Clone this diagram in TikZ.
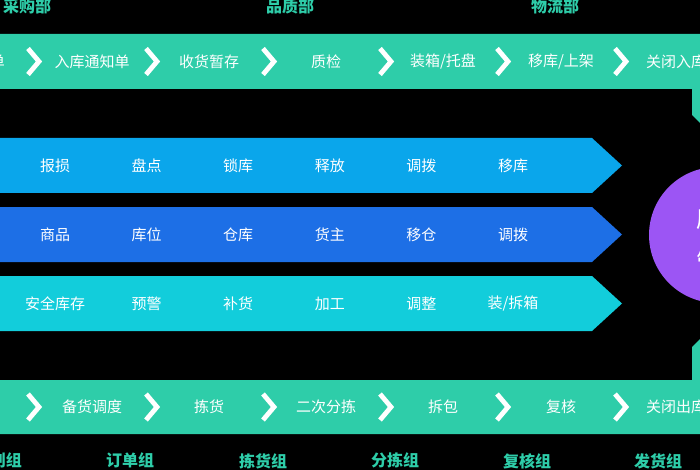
\documentclass[tikz,border=0pt]{standalone}
\usepackage{fontspec}
\setmainfont{Noto Sans CJK SC}
\usepackage{xcolor}
\usepackage{tikz}
\usetikzlibrary{calc}
\definecolor{bandgreen}{HTML}{2ECDA9}
\definecolor{rowsky}{HTML}{0AA6EB}
\definecolor{rowblue}{HTML}{1D6FE6}
\definecolor{rowcyan}{HTML}{12CDDB}
\definecolor{hubpurple}{HTML}{9C55F4}

\begin{document}
\begin{tikzpicture}[x=1pt,y=-1pt,
							lbl/.style={text=white,inner sep=0pt,font=\fontsize{15}{18}\selectfont},
							hdr/.style={text=bandgreen,inner sep=0pt,font=\bfseries\fontsize{16}{18}\selectfont},
							%chevrons between the steps
							chev/.style={draw=white,line width=4.8pt,line join=miter}]
			\useasboundingbox (0,0) rectangle (700,470);
			\fill[black] (0,0) rectangle (700,470);
			% inbound band, bending down to the hub
			\fill[bandgreen] (-20,34) -- (740,34) -- (740,160) -- (737,160) -- (692,115)
				-- (692,89) -- (-20,89) -- cycle;
			% outbound band, bending up to the hub
			\fill[bandgreen] (-20,434) -- (740,434) -- (740,302) -- (737,302) -- (692,347)
				-- (692,380) -- (-20,380) -- cycle;
			\node[circle,fill=hubpurple,minimum size=136pt,inner sep=0pt] (hub) at (717,235) {};
			\node[lbl,font=\fontsize{24}{44}\selectfont,align=center] (hubtext) at (720,240) {库存\\管理};
			% inventory rows
			\foreach \y/\c in {165.5/rowsky,234.5/rowblue,303.5/rowcyan}
				\fill[\c] (-20,\y-27.5) -- (592,\y-27.5) -- (622,\y) -- (592,\y+27.5) -- (-20,\y+27.5) -- cycle;
			\foreach \t [count=\i from 0] in {报损,盘点,锁库,释放,调拨,移库}
				\node[lbl] (sky\i) at (55+91.6*\i,165.5) {\t};
			\foreach \t [count=\i from 0] in {商品,库位,仓库,货主,移仓,调拨}
				\node[lbl] (blue\i) at (55+91.6*\i,234.5) {\t};
			\foreach \t [count=\i from 0] in {安全库存,预警,补货,加工,调整,{装/拆箱}}
				\node[lbl] (cyan\i) at (55+91.6*\i,303.5) {\t};
			% inbound steps
			\foreach \x/\t [count=\i] in {-25/采购订单,92/入库通知单,209/收货暂存,326/质检,443/{装箱/托盘},561/{移库/上架},676/关闭入库}
				\node[lbl] (in\i) at (\x,61.5) {\t};
			\foreach \x in {33,151,268,385,502,620}
				\draw[chev] (\x-5,48.5) -- (\x+6,61.5) -- (\x-5,74.5);
			% outbound steps
			\foreach \x/\t [count=\i] in {92/备货调度,209/拣货,326/二次分拣,443/拆包,561/复核,676/关闭出库}
				\node[lbl] (out\i) at (\x,407) {\t};
			\foreach \x in {33,151,268,385,502,620}
				\draw[chev] (\x-5,394) -- (\x+6,407) -- (\x-5,420);
			% departments and groups
			\foreach \x/\t [count=\i] in {27/采购部,290/品质部,555/物流部}
				\node[hdr,anchor=base] (dept\i) at (\x,13) {\t};
			\foreach \x/\t [count=\i] in {-2/计划组,130/订单组,263/拣货组,395/分拣组,527/复核组,658/发货组}
				\node[hdr,anchor=north] (grp\i) at (\x,453) {\t};
		\end{tikzpicture}
\end{document}
